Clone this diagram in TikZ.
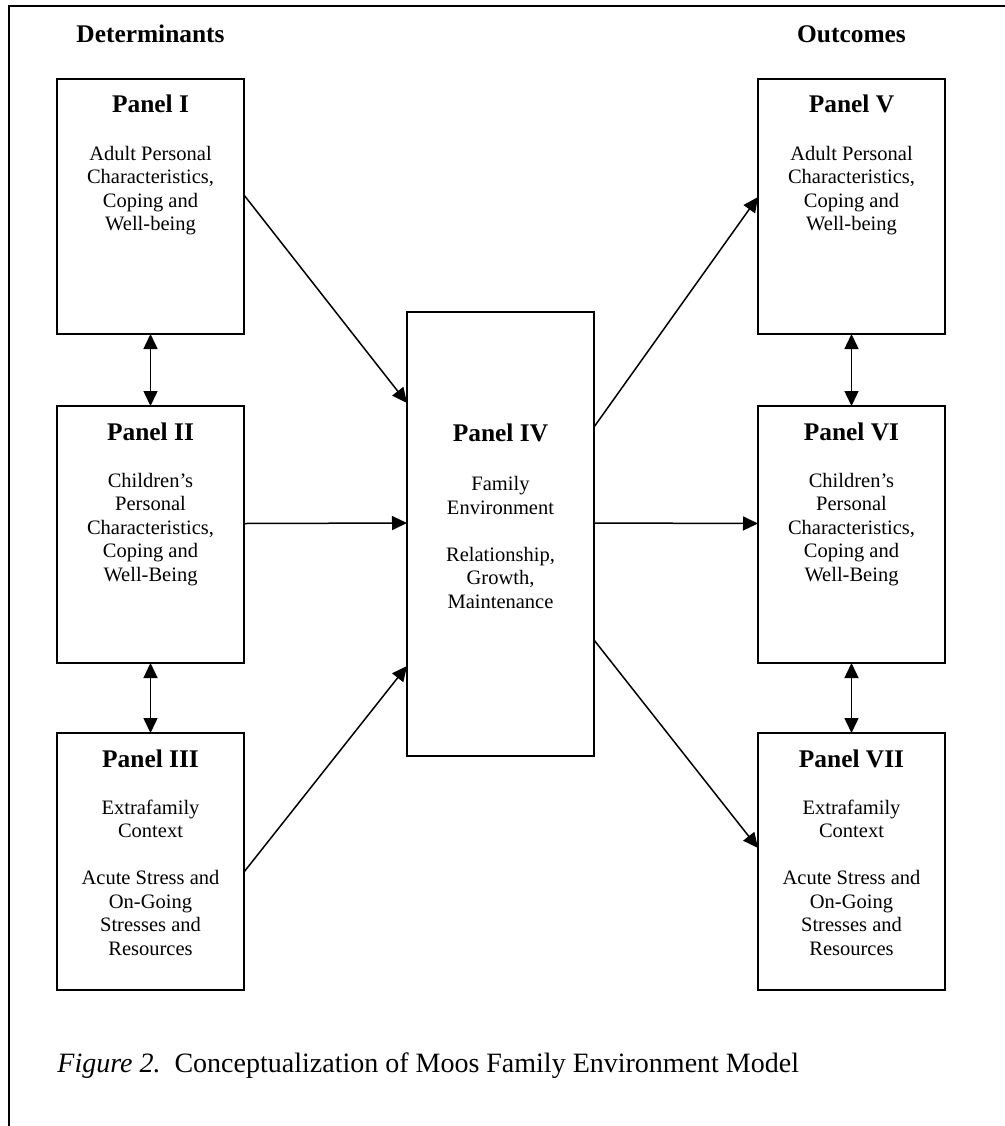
\documentclass[tikz,border=0pt]{standalone}
\usepackage{fontspec}
\setmainfont{Liberation Serif}
\usetikzlibrary{arrows.meta}
\begin{document}
\begin{tikzpicture}[x=0.5pt,y=-0.5pt,
  panel/.style={draw, line width=1pt, minimum width=93.5pt, inner sep=0pt, outer sep=0pt},
  ttl/.style={font=\fontsize{12.7pt}{15pt}\selectfont\bfseries, inner sep=0pt, anchor=base},
  bdy/.style={font=\fontsize{10.25pt}{11.75pt}\selectfont, inner sep=0pt, anchor=base},
  arr/.style={line width=0.75pt, -{Triangle[length=7.5pt,width=7pt]}},
  dbl/.style={line width=0.75pt, {Triangle[length=7.5pt,width=7pt]}-{Triangle[length=7.5pt,width=7pt]}},
  captext/.style={font=\fontsize{14pt}{16pt}\selectfont, inner sep=0pt, anchor=base west}]
\useasboundingbox (0,0) rectangle (1005,1126);
% outer frame (top and left only)
\draw[line width=1pt] (9,1127) -- (9,6) -- (1006,6);
% headers
\node[ttl] (hdet) at (150.5,42) {Determinants};
\node[ttl] (hout) at (851.5,42) {Outcomes};
% boxes
\node[panel, minimum height=127.5pt] (p1) at (150.5,206.5) {};
\node[panel, minimum height=128.5pt] (p2) at (150.5,534.5) {};
\node[panel, minimum height=128.5pt] (p3) at (150.5,861.5) {};
\node[panel, minimum height=222pt] (p4) at (500.5,534) {};
\node[panel, minimum height=127.5pt] (p5) at (851.5,206.5) {};
\node[panel, minimum height=128.5pt] (p6) at (851.5,534.5) {};
\node[panel, minimum height=128.5pt] (p7) at (851.5,861.5) {};
% texts
\node[ttl] (t1) at (150.5,112) {Panel I};
\node[bdy] (b1) at (150.5,160) {\begin{tabular}[t]{@{}c@{}}Adult Personal\\Characteristics,\\Coping and\\Well-being\end{tabular}};
\node[ttl] (t2) at (150.5,440) {Panel II};
\node[bdy] (b2) at (150.5,487) {\begin{tabular}[t]{@{}c@{}}Children’s\\Personal\\Characteristics,\\Coping and\\Well-Being\end{tabular}};
\node[ttl] (t3) at (150.5,767) {Panel III};
\node[bdy] (b3) at (150.5,814) {\begin{tabular}[t]{@{}c@{}}Extrafamily\\Context\\ \\Acute Stress and\\On-Going\\Stresses and\\Resources\end{tabular}};
\node[ttl] (t4) at (500.5,441) {Panel IV};
\node[bdy] (b4) at (500.5,490.5) {\begin{tabular}[t]{@{}c@{}}Family\\Environment\\ \\Relationship,\\Growth,\\Maintenance\end{tabular}};
\node[ttl] (t5) at (851.5,112) {Panel V};
\node[bdy] (b5) at (851.5,160) {\begin{tabular}[t]{@{}c@{}}Adult Personal\\Characteristics,\\Coping and\\Well-being\end{tabular}};
\node[ttl] (t6) at (851.5,440) {Panel VI};
\node[bdy] (b6) at (851.5,487) {\begin{tabular}[t]{@{}c@{}}Children’s\\Personal\\Characteristics,\\Coping and\\Well-Being\end{tabular}};
\node[ttl] (t7) at (851.5,767) {Panel VII};
\node[bdy] (b7) at (851.5,814) {\begin{tabular}[t]{@{}c@{}}Extrafamily\\Context\\ \\Acute Stress and\\On-Going\\Stresses and\\Resources\end{tabular}};
% connectors
\draw[dbl] (p1) -- (p2);
\draw[dbl] (p2) -- (p3);
\draw[dbl] (p5) -- (p6);
\draw[dbl] (p6) -- (p7);
\draw[arr] ([yshift=5.75pt]p1.east) -- ([yshift=65.5pt]p4.west);
\draw[arr] ([yshift=5.5pt]p2.east) -- ([yshift=5.5pt]p4.west);
\draw[arr] ([yshift=-5.25pt]p3.east) -- ([yshift=-66pt]p4.west);
\draw[arr] ([yshift=53.5pt]p4.east) -- ([yshift=4.75pt]p5.west);
\draw[arr] ([yshift=5.5pt]p4.east) -- ([yshift=5.5pt]p6.west);
\draw[arr] ([yshift=-53pt]p4.east) -- ([yshift=6.75pt]p7.west);
% caption
\node[captext] (capt) at (57,1072) {\textit{Figure 2.}\ \ Conceptualization of Moos Family Environment Model};
\end{tikzpicture}
\end{document}
